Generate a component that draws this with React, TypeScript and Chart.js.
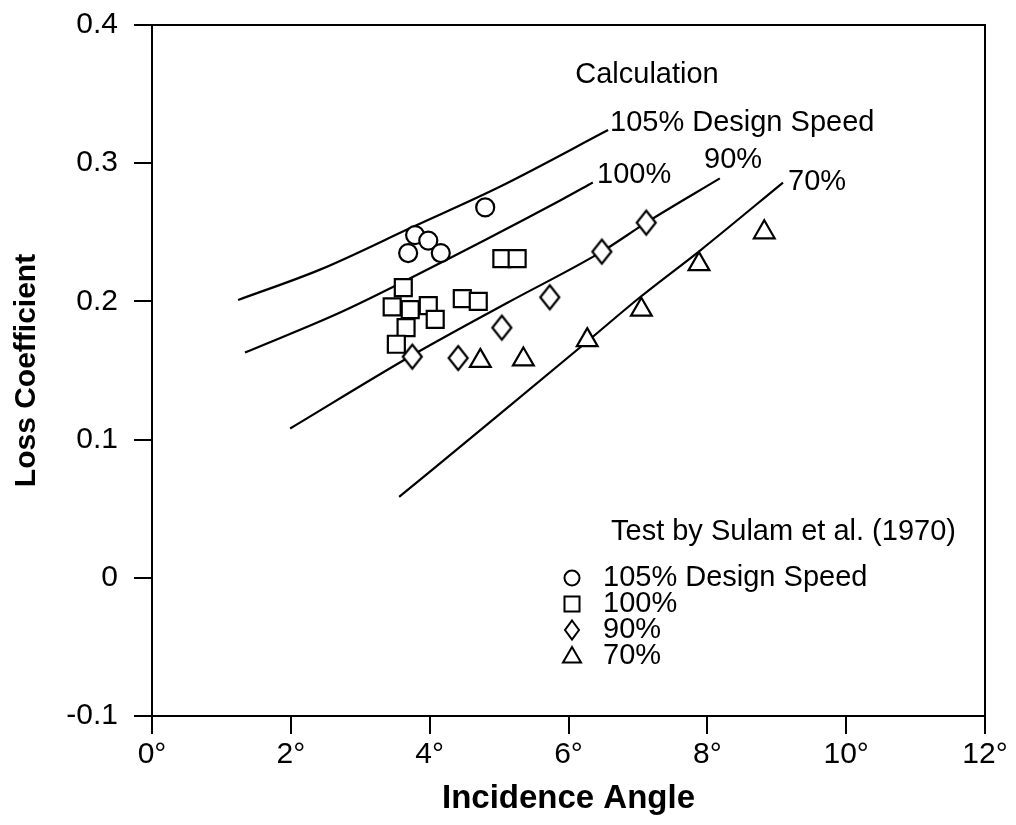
import React, { useEffect, useRef } from 'react';
import { Chart, registerables } from 'chart.js';

Chart.register(...registerables);

// ---- Axis ticks ----
const xTickValues = [0, 2, 4, 6, 8, 10, 12];
const yTickValues = [-0.1, 0, 0.1, 0.2, 0.3, 0.4];

// ---- Calculation curves (incidence angle in degrees, loss coefficient) ----
const calc105X = [1.24, 2.42, 3.76, 5.01, 6.57];
const calc105Y = [0.201, 0.223, 0.254, 0.283, 0.324];
const calc100X = [1.34, 2.71, 3.67, 5.88, 6.35];
const calc100Y = [0.163, 0.192, 0.2155, 0.273, 0.286];
const calc90X = [1.99, 3.75, 5.12, 6.48, 7.12, 8.18];
const calc90Y = [0.108, 0.161, 0.199, 0.236, 0.257, 0.289];
const calc70X = [3.56, 5.0, 6.27, 7.03, 7.9, 9.09];
const calc70Y = [0.0585, 0.118, 0.171, 0.203, 0.237, 0.286];
const calcLabels = ['105% Design Speed', '100%', '90%', '70%'];

// ---- Test data, Sulam et al. (1970) ----
const test105X = [3.79, 3.98, 3.69, 4.16, 4.8];
const test105Y = [0.248, 0.244, 0.235, 0.235, 0.268];
const test100X = [3.62, 3.46, 3.72, 3.98, 4.08, 3.66, 3.52, 4.47, 4.7, 5.04, 5.26];
const test100Y = [0.21, 0.196, 0.194, 0.197, 0.187, 0.181, 0.169, 0.202, 0.2, 0.231, 0.231];
const test90X = [3.75, 4.41, 5.04, 5.73, 6.48, 7.12];
const test90Y = [0.16, 0.159, 0.181, 0.203, 0.236, 0.257];
const test70X = [4.73, 5.35, 6.27, 7.05, 7.88, 8.82];
const test70Y = [0.157, 0.158, 0.172, 0.194, 0.227, 0.25];
const testLabels = ['105% Design Speed', '100%', '90%', '70%'];
const testTitle = 'Test by Sulam et al. (1970)';
const calcTitle = 'Calculation';
const xTitle = 'Incidence Angle';
const yTitle = 'Loss Coefficient';

const FONT = '"Liberation Sans", Arial, Helvetica, sans-serif';

const pts = (xs: number[], ys: number[]) => xs.map((x, i) => ({ x, y: ys[i] }));

function makeDiamond(w: number, h: number, lw: number) {
  const c = document.createElement('canvas');
  c.width = w + lw * 2 + 2;
  c.height = h + lw * 2 + 2;
  const ctx = c.getContext('2d')!;
  const cx = c.width / 2;
  const cy = c.height / 2;
  ctx.beginPath();
  ctx.moveTo(cx, cy - h / 2);
  ctx.lineTo(cx + w / 2, cy);
  ctx.lineTo(cx, cy + h / 2);
  ctx.lineTo(cx - w / 2, cy);
  ctx.closePath();
  ctx.fillStyle = '#fff';
  ctx.fill();
  ctx.lineWidth = lw;
  ctx.strokeStyle = '#000';
  ctx.lineJoin = 'miter';
  ctx.stroke();
  return c;
}

function drawMarker(ctx: CanvasRenderingContext2D, kind: string, x: number, y: number) {
  ctx.save();
  ctx.lineWidth = 2;
  ctx.strokeStyle = '#000';
  ctx.fillStyle = '#fff';
  ctx.beginPath();
  if (kind === 'circle') {
    ctx.arc(x, y, 7.5, 0, Math.PI * 2);
  } else if (kind === 'rect') {
    ctx.rect(x - 7.5, y - 7.5, 15, 15);
  } else if (kind === 'diamond') {
    ctx.moveTo(x, y - 9.5);
    ctx.lineTo(x + 7, y);
    ctx.lineTo(x, y + 9.5);
    ctx.lineTo(x - 7, y);
    ctx.closePath();
  } else {
    ctx.moveTo(x, y - 9);
    ctx.lineTo(x + 9, y + 6.5);
    ctx.lineTo(x - 9, y + 6.5);
    ctx.closePath();
  }
  ctx.fill();
  ctx.stroke();
  ctx.restore();
}

const annotationPlugin = {
  id: 'annotations',
  afterDraw(chart: any) {
    const { ctx, chartArea } = chart;
    const { left, top, right, bottom } = chartArea;
    ctx.save();
    // frame
    ctx.lineWidth = 2;
    ctx.strokeStyle = '#000';
    ctx.strokeRect(left, top, right - left, bottom - top);

    ctx.fillStyle = '#000';
    ctx.font = `29px ${FONT}`;
    ctx.textBaseline = 'middle';
    ctx.textAlign = 'center';
    ctx.fillText(calcTitle, left + 495, top + 50);

    ctx.textAlign = 'left';
    const curveLabelPos = [
      [left + 458, top + 98],
      [left + 445, top + 150],
      [left + 552, top + 135],
      [left + 636, top + 157],
    ];
    calcLabels.forEach((t, i) => ctx.fillText(t, curveLabelPos[i][0], curveLabelPos[i][1]));

    // legend
    ctx.fillText(testTitle, left + 459, top + 507);
    const kinds = ['circle', 'rect', 'diamond', 'triangle'];
    testLabels.forEach((t, i) => {
      const y = top + 553 + i * 26;
      drawMarker(ctx, kinds[i], left + 420, y);
      ctx.fillStyle = '#000';
      ctx.fillText(t, left + 451, y);
    });
    ctx.restore();
  },
};

export default function App() {
  const ref = useRef<HTMLCanvasElement>(null);

  useEffect(() => {
    if (!ref.current) return;
    const diamond = makeDiamond(19, 24, 2.2);
    const lineDs = (xs: number[], ys: number[], label: string) => ({
      type: 'line' as const,
      label,
      data: pts(xs, ys),
      borderColor: '#000',
      borderWidth: 2.2,
      pointRadius: 0,
      fill: false,
      cubicInterpolationMode: 'monotone' as const,
      order: 1,
    });
    const scatterDs = (xs: number[], ys: number[], label: string, style: any, radius: number) => ({
      type: 'scatter' as const,
      label,
      data: pts(xs, ys),
      showLine: false,
      pointStyle: style,
      pointRadius: radius,
      pointBorderWidth: 2.2,
      borderColor: '#000',
      backgroundColor: '#fff',
      pointBackgroundColor: '#fff',
      pointBorderColor: '#000',
      order: 0,
    });

    const chart = new Chart(ref.current, {
      type: 'scatter',
      data: {
        datasets: [
          scatterDs(test105X, test105Y, 'Test ' + testLabels[0], 'circle', 9),
          scatterDs(test100X, test100Y, 'Test ' + testLabels[1], 'rect', 12),
          scatterDs(test90X, test90Y, 'Test ' + testLabels[2], diamond, 12),
          scatterDs(test70X, test70Y, 'Test ' + testLabels[3], 'triangle', 12),
          lineDs(calc105X, calc105Y, 'Calc ' + calcLabels[0]),
          lineDs(calc100X, calc100Y, 'Calc ' + calcLabels[1]),
          lineDs(calc90X, calc90Y, 'Calc ' + calcLabels[2]),
          lineDs(calc70X, calc70Y, 'Calc ' + calcLabels[3]),
        ] as any,
      },
      options: {
        animation: false,
        responsive: false,
        devicePixelRatio: 1,
        layout: { padding: { left: 0, top: 25, right: 31, bottom: 0 } },
        plugins: {
          legend: { display: false },
          tooltip: { enabled: false },
          title: { display: false },
        },
        scales: {
          x: {
            type: 'linear',
            min: 0,
            max: 12,
            afterBuildTicks: (s: any) => {
              s.ticks = xTickValues.map((v) => ({ value: v }));
            },
            afterFit: (s: any) => {
              s.height = 109;
              s.paddingLeft = 0;
              s.paddingRight = 0;
            },
            ticks: {
              color: '#000',
              font: { family: FONT, size: 30 },
              padding: 3,
              maxRotation: 0,
              callback: (v: any) => `${v}°`,
            },
            grid: {
              drawOnChartArea: false,
              drawTicks: true,
              tickLength: 18,
              color: '#000',
              lineWidth: 2,
            },
            border: { display: true, color: '#000', width: 2 },
            title: {
              display: true,
              text: xTitle,
              color: '#000',
              font: { family: FONT, size: 33, weight: 'bold' },
              padding: { top: 0, bottom: 6 },
            },
          },
          y: {
            type: 'linear',
            min: -0.1,
            max: 0.4,
            afterBuildTicks: (s: any) => {
              s.ticks = yTickValues.map((v) => ({ value: v }));
            },
            afterFit: (s: any) => {
              s.width = 152;
              s.paddingTop = 0;
              s.paddingBottom = 0;
            },
            ticks: {
              color: '#000',
              font: { family: FONT, size: 30 },
              padding: 16,
              callback: (v: any) => (Math.abs(v) < 1e-9 ? '0' : Number(v).toFixed(1)),
            },
            grid: {
              drawOnChartArea: false,
              drawTicks: true,
              tickLength: 18,
              color: '#000',
              lineWidth: 2,
            },
            border: { display: true, color: '#000', width: 2 },
            title: {
              display: true,
              text: yTitle,
              color: '#000',
              font: { family: FONT, size: 30, weight: 'bold' },
              padding: { top: 9, bottom: 0 },
            },
          },
        },
      } as any,
      plugins: [annotationPlugin],
    });
    return () => chart.destroy();
  }, []);

  return (
    <div style={{ position: 'fixed', left: 0, top: 0, width: 1016, height: 825, background: '#fff' }}>
      <canvas ref={ref} width={1016} height={825} style={{ display: 'block' }} />
    </div>
  );
}
